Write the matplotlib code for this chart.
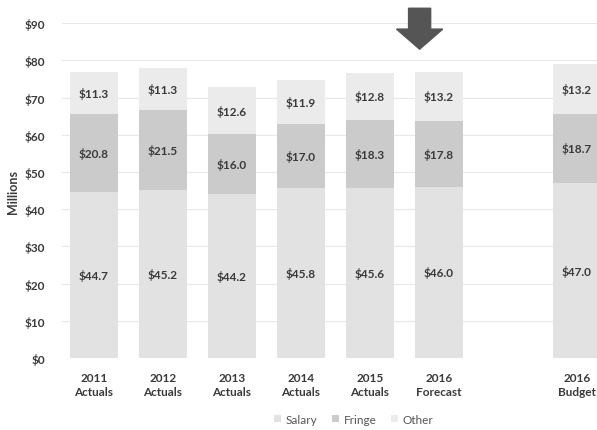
import matplotlib.pyplot as plt
from matplotlib.patches import FancyArrow

plt.rcParams['font.family'] = ['Lato', 'DejaVu Sans']

# 데이터
categories = ["2011\nActuals", "2012\nActuals", "2013\nActuals", "2014\nActuals",
              "2015\nActuals", "2016\nForecast", "", "2016\nBudget"]
salary = [44.7, 45.2, 44.2, 45.8, 45.6, 46.0, None, 47.0]
fringe = [20.8, 21.5, 16.0, 17.0, 18.3, 17.8, None, 18.7]
other = [11.3, 11.3, 12.6, 11.9, 12.8, 13.2, None, 13.2]
y_ticks = [0, 10, 20, 30, 40, 50, 60, 70, 80, 90]

colors = {"Salary": "#e2e2e2", "Fringe": "#cbcbcb", "Other": "#ebebeb"}
text_color = "#3a3a3a"

fig = plt.figure(figsize=(5.97, 4.31), dpi=100)
ax = fig.add_axes([0.104, 0.167, 0.896, 0.777])

idx = [i for i, s in enumerate(salary) if s is not None]
xs = idx
sal = [salary[i] for i in idx]
fri = [fringe[i] for i in idx]
oth = [other[i] for i in idx]
bot2 = [a + b for a, b in zip(sal, fri)]

w = 0.7
ax.bar(xs, sal, w, color=colors["Salary"], label="Salary", zorder=2)
ax.bar(xs, fri, w, bottom=sal, color=colors["Fringe"], label="Fringe", zorder=2)
ax.bar(xs, oth, w, bottom=bot2, color=colors["Other"], label="Other", zorder=2)

for x, s, f, o, b in zip(xs, sal, fri, oth, bot2):
    ax.text(x, s / 2, f"${s:.1f}", ha="center", va="center", fontsize=8.5,
            fontweight="bold", color=text_color, zorder=3)
    ax.text(x, s + f / 2, f"${f:.1f}", ha="center", va="center", fontsize=8.5,
            fontweight="bold", color=text_color, zorder=3)
    ax.text(x, b + o / 2, f"${o:.1f}", ha="center", va="center", fontsize=8.5,
            fontweight="bold", color=text_color, zorder=3)

# 축 설정
ax.set_ylim(0, 90)
ax.set_xlim(-0.46, 7.29)
ax.set_yticks(y_ticks)
ax.set_yticklabels([f"${v}" for v in y_ticks], fontsize=8.5, fontweight="bold",
                   color=text_color)
ax.set_xticks(range(len(categories)))
ax.set_xticklabels(categories, fontsize=8.5, fontweight="bold", color=text_color,
                   linespacing=1.3)
ax.tick_params(axis="x", length=0, pad=10)
ax.tick_params(axis="y", length=0, pad=12)
ax.grid(axis="y", color="#e8e8e8", linewidth=0.8, zorder=0)
for sp in ax.spines.values():
    sp.set_visible(False)
ax.set_ylabel("Millions", fontsize=9, fontweight="bold", color=text_color, labelpad=4)

# 2016 Forecast 강조 화살표
arrow = FancyArrow(4.72, 94, 0, -11, width=0.32, head_width=0.67, head_length=5.4,
                   length_includes_head=True, color="#555555", clip_on=False, zorder=4)
ax.add_patch(arrow)

leg = ax.legend(loc="upper center", bbox_to_anchor=(0.545, -0.135), ncol=3, frameon=False,
                fontsize=8.5, handlelength=0.6, handleheight=0.6, handletextpad=0.4,
                columnspacing=1.2)
for t in leg.get_texts():
    t.set_color("#555555")

fig.savefig("out.png", dpi=100)
